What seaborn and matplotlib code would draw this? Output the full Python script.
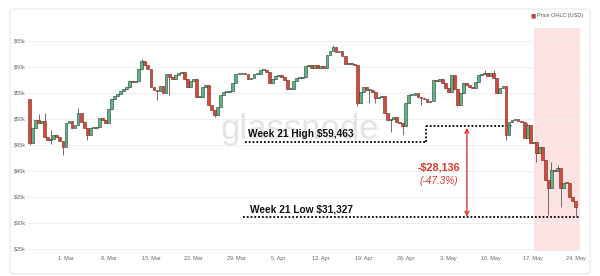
import matplotlib
matplotlib.use("Agg")
import matplotlib.pyplot as plt
import matplotlib.dates as mdates
from matplotlib.patches import FancyBboxPatch
import numpy as np
import pandas as pd
import seaborn as sns

# ---------------- data (12h candles, prices in $k) ----------------
start_time = "2021-02-23 00:00"
first_open = 53.8
closes = [
    # Feb 23 - Feb 28
    45.3, 48.2, 49.8, 49.3, 49.6, 46.6, 46.0, 46.1, 47.0, 46.5, 45.7, 44.7,
    # Mar 1 - Mar 9
    49.3, 49.6, 48.2, 48.9, 51.1, 49.5, 48.2, 47.0, 48.3, 48.3, 48.4, 50.1,
    49.8, 49.3, 52.0, 53.8, 54.5, 54.8,
    # Mar 10 - Mar 29
    55.3, 55.8, 56.2, 57.4, 57.1, 57.4, 59.7, 61.1, 60.3, 59.6, 56.2, 55.5,
    55.3, 56.4, 55.0, 58.6, 58.0, 57.6, 58.5, 58.8, 59.0, 57.6, 56.2, 57.4,
    57.7, 54.2, 54.3, 56.2, 56.5, 52.6, 51.7, 50.8, 52.3, 54.6, 55.2, 55.2,
    55.3, 57.0, 58.6, 58.6,
    # Mar 30 - Apr 9
    58.9, 58.6, 57.6, 57.8, 58.6, 58.6, 59.4, 59.4, 59.0, 57.0, 57.6, 58.3,
    58.4, 58.0, 57.5, 55.8, 55.8, 57.4, 57.9, 57.9, 58.0, 60.1,
    # Apr 10 - Apr 25
    60.4, 59.9, 60.3, 59.8, 60.2, 59.9, 62.4, 63.1, 63.8, 62.8, 63.0, 62.2,
    60.6, 60.8, 60.5, 60.3, 53.0, 55.2, 56.1, 55.5, 55.5, 55.2, 54.0, 54.3,
    54.4, 51.1, 49.8, 49.9, 50.3, 49.5, 49.2, 48.6,
    # Apr 26 - May 12 (first half)
    53.0, 54.6, 54.6, 54.9, 54.3, 54.0, 53.8, 53.3, 53.5, 57.5, 57.3, 57.6,
    57.0, 56.0, 55.2, 58.5, 55.8, 52.7, 55.0, 57.0, 56.5, 56.2, 55.9, 57.2,
    58.5, 58.7, 58.9, 58.2, 58.8, 57.8, 54.9, 56.0, 56.3,
    # May 12 (second half) - May 24
    47.0, 49.4, 49.8, 50.0, 49.7, 49.5, 46.3, 48.8, 45.4, 45.5, 43.5, 44.6,
    42.1, 38.3, 36.7, 40.2, 40.0, 40.6, 36.7, 37.7, 37.6, 35.0, 34.2, 33.1,
]
# notable wick extremes (candle index -> price)
wick_highs = {3: 50.9, 5: 51.1, 7: 47.9, 16: 52.1, 37: 61.6, 100: 64.2,
              150: 59.4, 153: 59.5, 164: 49.3, 172: 41.7, 174: 41.2}
wick_lows = {0: 45.0, 7: 45.2, 11: 43.1, 19: 46.0, 42: 53.6, 46: 54.6,
             61: 50.3, 108: 52.4, 112: 53.0, 114: 53.0, 119: 47.4, 123: 47.0,
             129: 52.7, 141: 52.5, 157: 46.0, 167: 41.7, 171: 31.5,
             175: 33.1, 180: 31.3}

y_ticks = [25, 30, 35, 40, 45, 50, 55, 60, 65]
y_tick_labels = ["$25k", "$30k", "$35k", "$40k", "$45k", "$50k", "$55k", "$60k", "$65k"]
x_tick_labels = ["1. Mar", "8. Mar", "15. Mar", "22. Mar", "29. Mar", "5. Apr",
                 "12. Apr", "19. Apr", "26. Apr", "3. May", "10. May", "17. May", "24. May"]

week_high_label = "Week 21 High $59,463"
week_low_label = "Week 21 Low $31,327"
drop_label = "-$28,136"
drop_pct_label = "(-47.3%)"

# ---------------- build frame ----------------
times = pd.date_range(start_time, periods=len(closes), freq="12h")
opens = [first_open] + closes[:-1]
df = pd.DataFrame({"time": times, "open": opens, "close": closes})
df["high"] = df[["open", "close"]].max(axis=1)
df["low"] = df[["open", "close"]].min(axis=1)
for k, v in wick_highs.items():
    df.loc[k, "high"] = max(df.loc[k, "high"], v)
for k, v in wick_lows.items():
    df.loc[k, "low"] = min(df.loc[k, "low"], v)
df["up"] = df["close"] >= df["open"]
df["body_bottom"] = df[["open", "close"]].min(axis=1)
df["body_h"] = (df["close"] - df["open"]).abs().clip(lower=0.18)

# ---------------- style ----------------
sns.set_theme(style="white")
plt.rcParams["font.family"] = ["Liberation Sans", "DejaVu Sans"]

GREEN = "#5bb587"
GREEN_EDGE = "#263f32"
RED = "#d44a3a"
RED_EDGE = "#72261e"
ARROW_RED = "#d9382f"

fig = plt.figure(figsize=(6.0, 2.76), dpi=100)
fig.patch.set_facecolor("white")
frame = FancyBboxPatch((10 / 600, 2 / 276), 580 / 600, 265 / 276,
                       boxstyle="round,pad=0,rounding_size=0.01",
                       transform=fig.transFigure, facecolor="none",
                       edgecolor="#e6e6e6", lw=0.8)
fig.patches.append(frame)

ax = fig.add_axes([27 / 600, 25 / 276, 553 / 600, 223 / 276])
ax.set_facecolor("white")

mar1 = pd.Timestamp("2021-03-01")
x_left = mar1 - pd.Timedelta(days=6.42)
x_right = mar1 + pd.Timedelta(days=84.7)
ax.set_xlim(x_left, x_right)
ax.set_ylim(24.6, 67.5)

# week 21 shading
ax.axvspan(mar1 + pd.Timedelta(days=77.2), x_right, color="#fde2e2", lw=0, zorder=0)

# watermark
ax.text(0.494, 0.545, "glassnode", transform=ax.transAxes, fontsize=25,
        color="#e4e4e4", ha="center", va="center", zorder=0.5,
        family=["Liberation Sans", "DejaVu Sans"])

# grid
ax.set_yticks(y_ticks)
ax.set_yticklabels(y_tick_labels)
ax.yaxis.grid(True, color="#ededed", lw=0.6)
ax.xaxis.grid(False)
ax.set_axisbelow(True)

# candles
ax.vlines(df["time"], df["low"], df["high"], color="#3a3a3a", lw=0.5, zorder=2)
up = df[df["up"]]
dn = df[~df["up"]]
w = 0.46
ax.bar(up["time"], up["body_h"], bottom=up["body_bottom"], width=w,
       color=GREEN, edgecolor=GREEN_EDGE, lw=0.4, zorder=3)
ax.bar(dn["time"], dn["body_h"], bottom=dn["body_bottom"], width=w,
       color=RED, edgecolor=RED_EDGE, lw=0.4, zorder=3)

# x ticks
xt = pd.date_range("2021-03-01", periods=len(x_tick_labels), freq="7D")
ax.set_xticks(xt)
ax.set_xticklabels(x_tick_labels)
ax.tick_params(axis="x", length=0, pad=3.5, labelsize=4, labelcolor="#666666")
ax.tick_params(axis="y", length=0, pad=1, labelsize=4, labelcolor="#666666")
for s in ax.spines.values():
    s.set_visible(False)

def T(d):
    return mar1 + pd.Timedelta(days=d)

dot = (0, (1.0, 1.1))
# high annotation (stepped dotted line)
ax.plot([T(29.5), T(59.3)], [45.5, 45.5], color="black", lw=1.3, ls=dot, zorder=4)
ax.plot([T(59.3), T(59.3)], [45.5, 48.65], color="black", lw=1.3, ls=dot, zorder=4)
ax.plot([T(59.3), T(73.5)], [48.65, 48.65], color="black", lw=1.3, ls=dot, zorder=2.5)
ax.text(T(30.0), 47.15, week_high_label, fontsize=7.3, fontweight="bold",
        color="#111111", ha="left", va="center", zorder=5)

# low annotation
ax.plot([T(29.2), x_right], [31.1, 31.1], color="black", lw=1.3, ls=dot, zorder=4)
ax.text(T(30.3), 32.55, week_low_label, fontsize=7.3, fontweight="bold",
        color="#111111", ha="left", va="center", zorder=5)

# arrow
ax.annotate("", xy=(T(66.06), 31.2), xytext=(T(66.06), 48.3),
            arrowprops=dict(arrowstyle="<->", color=ARROW_RED, lw=1.0,
                            shrinkA=0, shrinkB=0, mutation_scale=7), zorder=5)
ax.text(T(61.45), 40.6, drop_label, fontsize=7.8, fontweight="bold",
        color=ARROW_RED, ha="center", va="center", zorder=5)
ax.text(T(61.45), 38.1, drop_pct_label, fontsize=7.2, fontstyle="italic",
        color=ARROW_RED, ha="center", va="center", zorder=5)

# legend
fig.text(533 / 600, 1 - 15.5 / 276, "\u25A0", fontsize=4, color="#b8443a",
         ha="center", va="center", family=["DejaVu Sans"])
fig.text(537 / 600, 1 - 15.5 / 276, "Price OHLC (USD)", fontsize=4,
         color="#555555", ha="left", va="center")

fig.savefig("out.png", dpi=100, facecolor="white")
